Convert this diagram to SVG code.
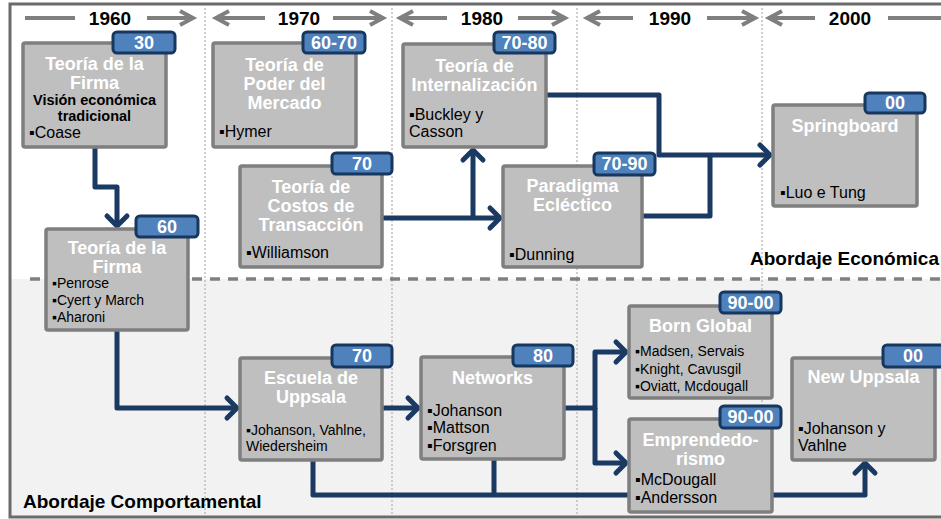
<svg xmlns="http://www.w3.org/2000/svg" width="941" height="519" viewBox="0 0 941 519">
<style>
.box{fill:#bfbfbf;stroke:#7f7f7f;stroke-width:3.5}
.badge{fill:#4f81bd;stroke:#17375e;stroke-width:3}
.t{font-family:"Liberation Sans",Arial,sans-serif;font-weight:bold;font-size:18px;fill:#fff;text-anchor:middle}
.bt{font-family:"Liberation Sans",Arial,sans-serif;font-weight:bold;font-size:18px;fill:#fff;text-anchor:middle}
.b{font-family:"Liberation Sans",Arial,sans-serif;font-size:16px;fill:#000}
.s{font-family:"Liberation Sans",Arial,sans-serif;font-size:14px;fill:#000}
.sb{font-family:"Liberation Sans",Arial,sans-serif;font-size:14.5px;font-weight:bold;fill:#000;text-anchor:middle}
.yr{font-family:"Liberation Sans",Arial,sans-serif;font-weight:bold;font-size:19px;fill:#000;text-anchor:middle}
.lbl{font-family:"Liberation Sans",Arial,sans-serif;font-weight:bold;font-size:19px;fill:#000}
.ga{fill:none;stroke:#7f7f7f;stroke-width:4}
.vd{stroke:#bfbfbf;stroke-width:1.5;stroke-dasharray:2 2}
.c{fill:none;stroke:#1b3a63;stroke-width:5;stroke-linejoin:round}
</style>
<defs>
<marker id="gh" markerUnits="userSpaceOnUse" viewBox="-18 -12 22 24" markerWidth="22" markerHeight="24" refX="0" refY="0" orient="auto" overflow="visible">
<path d="M-13,-7 L0,0 L-13,7" fill="none" stroke="#7f7f7f" stroke-width="4"/>
</marker>
<marker id="ah" markerUnits="userSpaceOnUse" viewBox="-16 -14 20 28" markerWidth="20" markerHeight="28" refX="0" refY="0" orient="auto" overflow="visible">
<path d="M-10,-10 L0,0 L-10,10" fill="none" stroke="#1b3a63" stroke-width="5" stroke-linecap="round" stroke-linejoin="round"/>
</marker>
</defs>
<rect x="0" y="0" width="941" height="519" fill="#fff"/>
<g id="background">
<rect x="11" y="279" width="940" height="237" fill="#f2f2f2"/>
<line class="vd" x1="205" y1="8" x2="205" y2="516"/>
<line class="vd" x1="392" y1="8" x2="392" y2="516"/>
<line class="vd" x1="577" y1="8" x2="577" y2="516"/>
<line class="vd" x1="762" y1="8" x2="762" y2="516"/>
<line x1="30" y1="279" x2="941" y2="279" stroke="#808080" stroke-width="3.5" stroke-dasharray="10 8"/>
<rect x="10" y="4" width="945" height="513" fill="none" stroke="#6b6b6b" stroke-width="3"/>
</g>
<g id="timeline">
<path class="ga" d="M25,18 H75"/>
<path class="ga" d="M147,18 H193" marker-end="url(#gh)"/>
<path class="ga" d="M265,18 H216" marker-end="url(#gh)"/>
<path class="ga" d="M333,18 H383" marker-end="url(#gh)"/>
<path class="ga" d="M447,18 H400" marker-end="url(#gh)"/>
<path class="ga" d="M518,18 H565" marker-end="url(#gh)"/>
<path class="ga" d="M633,18 H587" marker-end="url(#gh)"/>
<path class="ga" d="M707,18 H755" marker-end="url(#gh)"/>
<path class="ga" d="M815,18 H769" marker-end="url(#gh)"/>
<path class="ga" d="M888,18 H941"/>
<text class="yr" x="110" y="25">1960</text>
<text class="yr" x="299" y="25">1970</text>
<text class="yr" x="482" y="25">1980</text>
<text class="yr" x="670" y="25">1990</text>
<text class="yr" x="850" y="25">2000</text>
</g>
<g id="connectors">
<path class="c" d="M95,148 V187 H117 V226" marker-end="url(#ah)"/>
<path class="c" d="M117,331 V408 H237" marker-end="url(#ah)"/>
<path class="c" d="M383,408 H418" marker-end="url(#ah)"/>
<path class="c" d="M565,408 H595 V352 H626" marker-end="url(#ah)"/>
<path class="c" d="M595,408 V463 H626" marker-end="url(#ah)"/>
<path class="c" d="M313,461 V495 H865 V463" marker-end="url(#ah)"/>
<path class="c" d="M494,460 V495"/>
<path class="c" d="M383,218 H500" marker-end="url(#ah)"/>
<path class="c" d="M473,218 V150" marker-end="url(#ah)"/>
<path class="c" d="M547,95 H659 V155 H770" marker-end="url(#ah)"/>
<path class="c" d="M643,216 H710 V155"/>
</g>
<g id="n-firma30">
<rect class="box" x="23" y="43" width="143" height="104" rx="2"/>
<rect class="badge" x="113" y="32" width="62" height="21" rx="4"/>
<text class="bt" x="144" y="49">30</text>
<text class="t" x="94.5" y="70">Teoría de la</text>
<text class="t" x="94.5" y="89">Firma</text>
<text class="sb" x="94.5" y="105">Visión económica</text>
<text class="sb" x="94.5" y="121">tradicional</text>
<text class="b" x="29" y="138">▪Coase</text>
</g>
<g id="n-poder">
<rect class="box" x="213" y="43" width="143" height="104" rx="2"/>
<rect class="badge" x="303" y="32" width="62" height="21" rx="4"/>
<text class="bt" x="334" y="49">60-70</text>
<text class="t" x="284.5" y="71">Teoría de</text>
<text class="t" x="284.5" y="90">Poder del</text>
<text class="t" x="284.5" y="109">Mercado</text>
<text class="b" x="219" y="137">▪Hymer</text>
</g>
<g id="n-internalizacion">
<rect class="box" x="403" y="44" width="143" height="103" rx="2"/>
<rect class="badge" x="494" y="32" width="61" height="21" rx="4"/>
<text class="bt" x="524.5" y="49">70-80</text>
<text class="t" x="474.5" y="72">Teoría de</text>
<text class="t" x="474.5" y="91">Internalización</text>
<text class="b" x="409" y="120">▪Buckley y</text>
<text class="b" x="409" y="137">Casson</text>
</g>
<g id="n-costos">
<rect class="box" x="240" y="166" width="142" height="101" rx="2"/>
<rect class="badge" x="332" y="153" width="60" height="21" rx="4"/>
<text class="bt" x="362" y="170">70</text>
<text class="t" x="311" y="193">Teoría de</text>
<text class="t" x="311" y="212">Costos de</text>
<text class="t" x="311" y="231">Transacción</text>
<text class="b" x="246" y="258">▪Williamson</text>
</g>
<g id="n-paradigma">
<rect class="box" x="503" y="166" width="139" height="101" rx="2"/>
<rect class="badge" x="594" y="153" width="61" height="22" rx="4"/>
<text class="bt" x="624.5" y="170">70-90</text>
<text class="t" x="572.5" y="192">Paradigma</text>
<text class="t" x="572.5" y="211">Ecléctico</text>
<text class="b" x="509" y="260">▪Dunning</text>
</g>
<g id="n-springboard">
<rect class="box" x="773" y="105" width="144" height="101" rx="2"/>
<rect class="badge" x="865" y="93" width="60" height="20" rx="4"/>
<text class="bt" x="895" y="109">00</text>
<text class="t" x="845" y="132">Springboard</text>
<text class="b" x="780" y="198">▪Luo e Tung</text>
</g>
<g id="n-firma60">
<rect class="box" x="46" y="229" width="142" height="101" rx="2"/>
<rect class="badge" x="136" y="216" width="62" height="21" rx="4"/>
<text class="bt" x="167" y="233">60</text>
<text class="t" x="117" y="254">Teoría de la</text>
<text class="t" x="117" y="273">Firma</text>
<text class="s" x="52" y="288">▪Penrose</text>
<text class="s" x="52" y="305">▪Cyert y March</text>
<text class="s" x="52" y="322">▪Aharoni</text>
</g>
<g id="n-uppsala">
<rect class="box" x="240" y="358" width="142" height="102" rx="2"/>
<rect class="badge" x="332" y="345" width="60" height="22" rx="4"/>
<text class="bt" x="362" y="362">70</text>
<text class="t" x="311" y="384">Escuela de</text>
<text class="t" x="311" y="403">Uppsala</text>
<text class="s" x="246" y="435">▪Johanson, Vahlne,</text>
<text class="s" x="246" y="451">Wiedersheim</text>
</g>
<g id="n-networks">
<rect class="box" x="421" y="357" width="143" height="102" rx="2"/>
<rect class="badge" x="513" y="345" width="60" height="21" rx="4"/>
<text class="bt" x="543" y="362">80</text>
<text class="t" x="492.5" y="384">Networks</text>
<text class="b" x="427" y="416">▪Johanson</text>
<text class="b" x="427" y="433">▪Mattson</text>
<text class="b" x="427" y="451">▪Forsgren</text>
</g>
<g id="n-bornglobal">
<rect class="box" x="629" y="306" width="143" height="92" rx="2"/>
<rect class="badge" x="720" y="292" width="61" height="21" rx="4"/>
<text class="bt" x="750.5" y="309">90-00</text>
<text class="t" x="700.5" y="332">Born Global</text>
<text class="s" x="635" y="356">▪Madsen, Servais</text>
<text class="s" x="635" y="374">▪Knight, Cavusgil</text>
<text class="s" x="635" y="391">▪Oviatt, Mcdougall</text>
</g>
<g id="n-emprendedorismo">
<rect class="box" x="629" y="419" width="143" height="93" rx="2"/>
<rect class="badge" x="720" y="406" width="61" height="22" rx="4"/>
<text class="bt" x="750.5" y="423">90-00</text>
<text class="t" x="700.5" y="446">Emprendedo-</text>
<text class="t" x="700.5" y="465">rismo</text>
<text class="b" x="635" y="485">▪McDougall</text>
<text class="b" x="635" y="503">▪Andersson</text>
</g>
<g id="n-newuppsala">
<rect class="box" x="792" y="358" width="143" height="102" rx="2"/>
<rect class="badge" x="883" y="345" width="62" height="22" rx="4"/>
<text class="bt" x="913" y="362">00</text>
<text class="t" x="863.5" y="383">New Uppsala</text>
<text class="b" x="798" y="434">▪Johanson y</text>
<text class="b" x="798" y="451">Vahlne</text>
</g>
<g id="labels">
<text class="lbl" x="750" y="265">Abordaje Económica</text>
<text class="lbl" x="23" y="508">Abordaje Comportamental</text>
</g>
</svg>
